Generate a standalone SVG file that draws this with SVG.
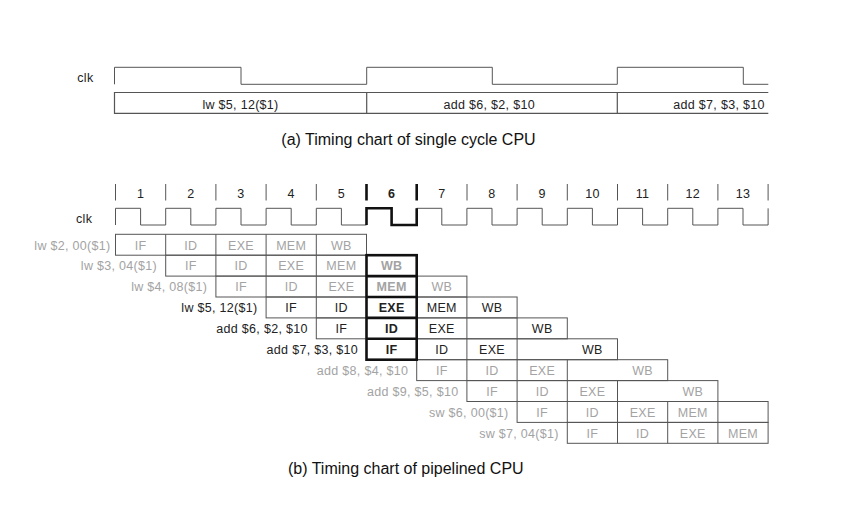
<svg xmlns="http://www.w3.org/2000/svg" width="844" height="518" viewBox="0 0 844 518">
<style>
.ln{stroke:#555;stroke-width:1;fill:none}
.bd{stroke:#111;stroke-width:2.6;fill:none}
text{font-family:"Liberation Sans",Arial,Helvetica,sans-serif;font-size:12.5px;letter-spacing:0.3px}
.g{fill:#a3a3a3}
.k{fill:#222}
.c{text-anchor:middle}
.r{text-anchor:end}
.b{font-weight:bold}
.cap{font-size:16px;letter-spacing:0;fill:#111;text-anchor:middle}
</style>
<rect width="844" height="518" fill="#fff"/>

<g id="single-cycle">
  <text class="k" x="77.3" y="81.5">clk</text>
  <path class="ln" d="M114.5,84.3 V67.3 H241 V84.3 H366.7 V67.3 H492.3 V84.3 H617.3 V67.3 H743.3 V84.3 H768.3"/>
  <path class="ln" d="M768.3,92.5 H114.5 V113.3 H768.3 M366.7,92.5 V113.3 M617.3,92.5 V113.3" style="stroke-width:1.2"/>
  <text class="k c" x="240.5" y="108.5">lw $5, 12($1)</text>
  <text class="k c" x="489.2" y="108.5">add $6, $2, $10</text>
  <text class="k c" x="719" y="108.5">add $7, $3, $10</text>
  <text class="cap" x="408.5" y="144.5">(a) Timing chart of single cycle CPU</text>
</g>

<g id="cycle-header">
  <path class="ln" d="M115.5,184 V200.5 M165.7,184 V200.5 M215.9,184 V200.5 M266.1,184 V200.5 M316.3,184 V200.5 M467,184 V200.5 M517.1,184 V200.5 M567.3,184 V200.5 M617.5,184 V200.5 M667.7,184 V200.5 M717.9,184 V200.5 M768.1,184 V200.5"/>
  <path class="bd" d="M366.5,184 V200.5 M416.7,184 V200.5"/>
  <text class="k c" x="140.6" y="197.5">1</text>
  <text class="k c" x="190.8" y="197.5">2</text>
  <text class="k c" x="241" y="197.5">3</text>
  <text class="k c" x="291.2" y="197.5">4</text>
  <text class="k c" x="341.4" y="197.5">5</text>
  <text class="k c b" x="391.6" y="197.5">6</text>
  <text class="k c" x="441.8" y="197.5">7</text>
  <text class="k c" x="492" y="197.5">8</text>
  <text class="k c" x="542.2" y="197.5">9</text>
  <text class="k c" x="592.4" y="197.5">10</text>
  <text class="k c" x="642.6" y="197.5">11</text>
  <text class="k c" x="692.8" y="197.5">12</text>
  <text class="k c" x="743" y="197.5">13</text>
</g>

<g id="pipeline-clock">
  <text class="k" x="76" y="223">clk</text>
  <path class="ln" d="M115.5,225 V208.3 H140.6 V225 H165.7 V208.3 H190.8 V225 H215.9 V208.3 H241 V225 H266.1 V208.3 H291.2 V225 H316.3 V208.3 H341.4 V225 H366.5 V208.3 H391.6 V225 H416.7 V208.3 H441.8 V225 H466.9 V208.3 H492 V225 H517.1 V208.3 H542.2 V225 H567.3 V208.3 H592.4 V225 H617.5 V208.3 H642.6 V225 H667.7 V208.3 H692.8 V225 H717.9 V208.3 H743 V225 H768.1 V208.3"/>
  <path class="bd" d="M366.5,225 V208.3 H391.6 V225 H416.7 V208.3"/>
</g>

<g id="row-lw2">
  <rect class="ln" x="115.5" y="234.3" width="251" height="20.9"/>
  <path class="ln" d="M165.7,234.3 V255.2 M215.9,234.3 V255.2 M266.1,234.3 V255.2 M316.3,234.3 V255.2"/>
  <text class="g r" x="110.5" y="249.5">lw $2, 00($1)</text>
  <text class="g c" x="140.6" y="249.5">IF</text>
  <text class="g c" x="190.8" y="249.5">ID</text>
  <text class="g c" x="241" y="249.5">EXE</text>
  <text class="g c" x="291.2" y="249.5">MEM</text>
  <text class="g c" x="341.4" y="249.5">WB</text>
</g>

<g id="row-lw3">
  <rect class="ln" x="165.7" y="255.2" width="251" height="20.9"/>
  <path class="ln" d="M215.9,255.2 V276.1 M266.1,255.2 V276.1 M316.3,255.2 V276.1"/>
  <text class="g r" x="157" y="270.4">lw $3, 04($1)</text>
  <text class="g c" x="190.8" y="270.4">IF</text>
  <text class="g c" x="241" y="270.4">ID</text>
  <text class="g c" x="291.2" y="270.4">EXE</text>
  <text class="g c" x="341.4" y="270.4">MEM</text>
  <text class="g c b" x="391.6" y="270.4">WB</text>
</g>

<g id="row-lw4">
  <rect class="ln" x="215.9" y="276.1" width="251" height="20.9"/>
  <path class="ln" d="M266.1,276.1 V297 M316.3,276.1 V297"/>
  <text class="g r" x="207.3" y="291.3">lw $4, 08($1)</text>
  <text class="g c" x="241" y="291.3">IF</text>
  <text class="g c" x="291.2" y="291.3">ID</text>
  <text class="g c" x="341.4" y="291.3">EXE</text>
  <text class="g c b" x="391.6" y="291.3">MEM</text>
  <text class="g c" x="441.8" y="291.3">WB</text>
</g>

<g id="row-lw5">
  <rect class="ln" x="266.1" y="297" width="251" height="20.9"/>
  <path class="ln" d="M316.3,297 V317.9 M466.9,297 V317.9"/>
  <text class="k r" x="257.5" y="312.2">lw $5, 12($1)</text>
  <text class="k c" x="291.2" y="312.2">IF</text>
  <text class="k c" x="341.4" y="312.2">ID</text>
  <text class="k c b" x="391.6" y="312.2">EXE</text>
  <text class="k c" x="441.8" y="312.2">MEM</text>
  <text class="k c" x="492" y="312.2">WB</text>
</g>

<g id="row-add6">
  <rect class="ln" x="316.3" y="317.9" width="251" height="20.9"/>
  <path class="ln" d="M466.9,317.9 V338.8 M517.1,317.9 V338.8"/>
  <text class="k r" x="307.7" y="333.1">add $6, $2, $10</text>
  <text class="k c" x="341.4" y="333.1">IF</text>
  <text class="k c b" x="391.6" y="333.1">ID</text>
  <text class="k c" x="441.8" y="333.1">EXE</text>
  <text class="k c" x="542.2" y="333.1">WB</text>
</g>

<g id="row-add7">
  <rect class="ln" x="366.5" y="338.8" width="251" height="20.9"/>
  <path class="ln" d="M466.9,338.8 V359.7 M517.1,338.8 V359.7"/>
  <text class="k r" x="358" y="354">add $7, $3, $10</text>
  <text class="k c b" x="391.6" y="354">IF</text>
  <text class="k c" x="441.8" y="354">ID</text>
  <text class="k c" x="492" y="354">EXE</text>
  <text class="k c" x="592.4" y="354">WB</text>
</g>

<g id="row-add8">
  <rect class="ln" x="416.7" y="359.7" width="251" height="20.9"/>
  <path class="ln" d="M466.9,359.7 V380.6 M517.1,359.7 V380.6 M567.3,359.7 V380.6"/>
  <text class="g r" x="408.2" y="374.9">add $8, $4, $10</text>
  <text class="g c" x="441.8" y="374.9">IF</text>
  <text class="g c" x="492" y="374.9">ID</text>
  <text class="g c" x="542.2" y="374.9">EXE</text>
  <text class="g c" x="642.6" y="374.9">WB</text>
</g>

<g id="row-add9">
  <rect class="ln" x="466.9" y="380.6" width="251" height="20.9"/>
  <path class="ln" d="M517.1,380.6 V401.5 M567.3,380.6 V401.5 M617.5,380.6 V401.5"/>
  <text class="g r" x="458.4" y="395.8">add $9, $5, $10</text>
  <text class="g c" x="492" y="395.8">IF</text>
  <text class="g c" x="542.2" y="395.8">ID</text>
  <text class="g c" x="592.4" y="395.8">EXE</text>
  <text class="g c" x="692.8" y="395.8">WB</text>
</g>

<g id="row-sw6">
  <rect class="ln" x="517.1" y="401.5" width="251" height="20.9"/>
  <path class="ln" d="M567.3,401.5 V422.4 M617.5,401.5 V422.4 M667.7,401.5 V422.4 M717.9,401.5 V422.4"/>
  <text class="g r" x="508.6" y="416.7">sw $6, 00($1)</text>
  <text class="g c" x="542.2" y="416.7">IF</text>
  <text class="g c" x="592.4" y="416.7">ID</text>
  <text class="g c" x="642.6" y="416.7">EXE</text>
  <text class="g c" x="692.8" y="416.7">MEM</text>
</g>

<g id="row-sw7">
  <rect class="ln" x="567.3" y="422.4" width="200.8" height="20.9"/>
  <path class="ln" d="M617.5,422.4 V443.3 M667.7,422.4 V443.3 M717.9,422.4 V443.3"/>
  <text class="g r" x="558.8" y="437.6">sw $7, 04($1)</text>
  <text class="g c" x="592.4" y="437.6">IF</text>
  <text class="g c" x="642.6" y="437.6">ID</text>
  <text class="g c" x="692.8" y="437.6">EXE</text>
  <text class="g c" x="743" y="437.6">MEM</text>
</g>

<g id="cycle6-highlight">
  <rect class="bd" x="366.5" y="255.2" width="50.2" height="104.5"/>
  <path class="bd" d="M366.5,276.1 H416.7 M366.5,297 H416.7 M366.5,317.9 H416.7 M366.5,338.8 H416.7"/>
</g>

<g id="connectors"></g>

<text class="cap" x="405.8" y="474">(b) Timing chart of pipelined CPU</text>
</svg>
